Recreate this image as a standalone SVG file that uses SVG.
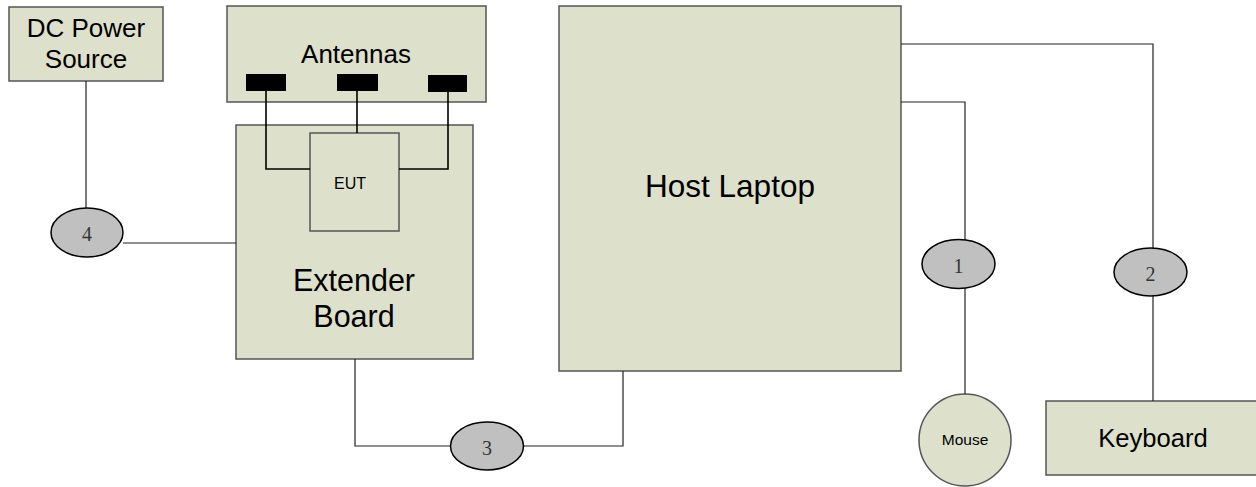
<svg xmlns="http://www.w3.org/2000/svg" width="1256" height="487" viewBox="0 0 1256 487">
<style>
.box{fill:#dde0cb;stroke:#555;stroke-width:1.5}
.ell{fill:#c0c0c0;stroke:#000;stroke-width:1.5}
.ant{fill:#000}
.t{font-family:"Liberation Sans",Arial,sans-serif;fill:#000;text-anchor:middle}
.n{font-family:"Liberation Serif","Times New Roman",serif;fill:#333;text-anchor:middle;font-size:20px}
.c{fill:none;stroke:#222;stroke-width:1.2}
.w{fill:none;stroke:#000;stroke-width:1.6}
</style>
<rect width="1256" height="487" fill="#fff"/>
<g id="dc-power">
<rect class="box" x="9" y="7" width="154" height="74"/>
<text class="t" x="86" y="37" font-size="26">DC Power</text>
<text class="t" x="86" y="68" font-size="26">Source</text>
</g>
<g id="antennas">
<rect class="box" x="227" y="6" width="259" height="96"/>
<text class="t" x="356" y="63" font-size="26">Antennas</text>
<rect class="ant" x="246" y="74" width="40" height="17"/>
<rect class="ant" x="337" y="74" width="41" height="17"/>
<rect class="ant" x="428" y="75" width="39" height="17"/>
</g>
<g id="extender-board">
<rect class="box" x="236" y="125" width="237" height="234"/>
<text class="t" x="354" y="291" font-size="30.5">Extender</text>
<text class="t" x="354" y="327" font-size="30.5">Board</text>
</g>
<g id="eut">
<rect class="box" x="310" y="133" width="89" height="98"/>
<text class="t" x="350" y="189" font-size="16">EUT</text>
</g>
<g id="host-laptop">
<rect class="box" x="559" y="6" width="342" height="365"/>
<text class="t" x="730" y="197" font-size="31.5">Host Laptop</text>
</g>
<g id="mouse">
<circle class="box" cx="965" cy="440" r="46"/>
<text class="t" x="965" y="445" font-size="15.5">Mouse</text>
</g>
<g id="keyboard">
<rect class="box" x="1046" y="401" width="212" height="74"/>
<text class="t" x="1153" y="447" font-size="25.6">Keyboard</text>
</g>
<g id="connectors">
<path class="c" d="M86,81 V208"/>
<path class="c" d="M123,243 H236"/>
<path class="c" d="M355,359 V446 H451"/>
<path class="c" d="M523,446 H623 V371"/>
<path class="c" d="M901,44 H1153 V248"/>
<path class="c" d="M1153,296 V401"/>
<path class="c" d="M901,102 H965 V240"/>
<path class="c" d="M965,288 V394"/>
<path class="w" d="M266,91 V169 H310"/>
<path class="w" d="M357,91 V133"/>
<path class="w" d="M448,92 V169 H399"/>
</g>
<g id="cable-1">
<ellipse class="ell" cx="958.5" cy="264" rx="36.5" ry="24.5"/>
<text class="n" x="958.5" y="273">1</text>
</g>
<g id="cable-2">
<ellipse class="ell" cx="1150.5" cy="272" rx="36.5" ry="24"/>
<text class="n" x="1150.5" y="281">2</text>
</g>
<g id="cable-3">
<ellipse class="ell" cx="487" cy="446" rx="36.5" ry="24"/>
<text class="n" x="487" y="455">3</text>
</g>
<g id="cable-4">
<ellipse class="ell" cx="87" cy="232.5" rx="36" ry="24.5"/>
<text class="n" x="87" y="241">4</text>
</g>
</svg>
